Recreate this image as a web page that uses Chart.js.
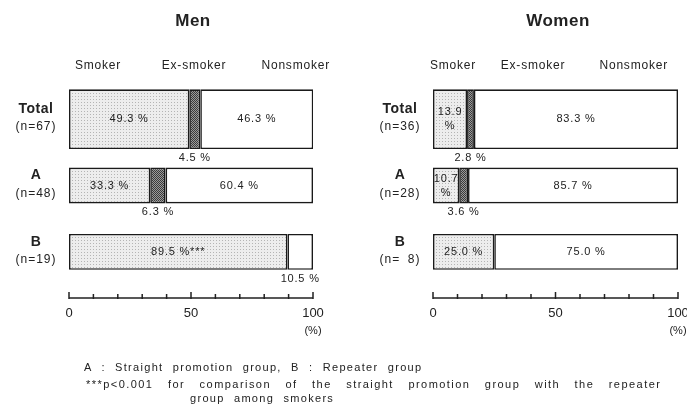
<!DOCTYPE html>
<html lang="en">
<head>
<meta charset="UTF-8">
<title>Smoking status</title>
<script src="https://cdn.jsdelivr.net/npm/chart.js"></script>
<style>
    body { margin: 0; background: #fff; font-family: 'Liberation Sans', Arial, sans-serif; color: #222; }
    .page { position: relative; width: 687px; height: 409px; overflow: hidden; }
    .panel { position: absolute; top: 0; }
    .title { position: absolute; font-size: 17px; font-weight: bold; transform: translateX(-50%); letter-spacing: 0.5px; }
    .head { position: absolute; font-size: 12px; top: 58px; white-space: nowrap; letter-spacing: 0.8px; }
    .note { position: absolute; font-size: 11px; white-space: nowrap; letter-spacing: 1.3px; word-spacing: 5px; }
    .note.wide { letter-spacing: 1.45px; word-spacing: 10px; }
</style>
</head>
<body>
<div class="page">
    <div class="panel" style="left:0"><canvas id="menChart" width="340" height="409"></canvas></div>
    <div class="panel" style="left:340px"><canvas id="womenChart" width="347" height="409"></canvas></div>

    <div class="title" style="left:193px; top:11px">Men</div>
    <div class="title" style="left:558px; top:11px">Women</div>

    <div class="head" style="left:75px">Smoker</div>
    <div class="head" style="left:194px; transform:translateX(-50%)">Ex-smoker</div>
    <div class="head" style="right:357px">Nonsmoker</div>
    <div class="head" style="left:430px">Smoker</div>
    <div class="head" style="left:533px; transform:translateX(-50%)">Ex-smoker</div>
    <div class="head" style="right:19px">Nonsmoker</div>

    <div class="note" style="left:84px; top:361px">A : Straight promotion group, B : Repeater group</div>
    <div class="note wide" style="left:86px; top:378px">***p&lt;0.001 for comparison of the straight promotion group with the repeater</div>
    <div class="note" style="left:190px; top:392px">group among smokers</div>
</div>

<script>
    // datos
    const categories = ['Total', 'A', 'B'];
    const statusLabels = ['Smoker', 'Ex-smoker', 'Nonsmoker'];
    const xTicks = [0, 50, 100];

    const menN = [67, 48, 19];
    const menSmoker = [49.3, 33.3, 89.5];
    const menEx = [4.5, 6.3, 0];
    const menNon = [46.3, 60.4, 10.5];
    const menMarks = ['', '', '***'];

    const womenN = [36, 28, 8];
    const womenSmoker = [13.9, 10.7, 25.0];
    const womenEx = [2.8, 3.6, 0];
    const womenNon = [83.3, 85.7, 75.0];
    const womenMarks = ['', '', ''];

    function makePattern(bg, dot, step, checker) {
        const c = document.createElement('canvas');
        c.width = step; c.height = step;
        const x = c.getContext('2d');
        x.fillStyle = bg;
        x.fillRect(0, 0, step, step);
        x.fillStyle = dot;
        x.fillRect(0, 0, 1, 1);
        if (checker) x.fillRect(1, 1, 1, 1);
        return x.createPattern(c, 'repeat');
    }

    const fills = [
        makePattern('#ededed', '#b4b4b4', 3, false),
        makePattern('#9a9a9a', '#3a3a3a', 2, true),
        '#ffffff'
    ];

    function buildDatasets(series) {
        const out = [];
        // fila Total mas gruesa que A y B
        [[0], [1, 2]].forEach((rows, g) => {
            series.forEach((vals, s) => {
                out.push({
                    label: statusLabels[s],
                    data: vals.map((v, i) => rows.includes(i) ? v : null),
                    backgroundColor: fills[s],
                    borderColor: '#1a1a1a',
                    borderWidth: 1.6,
                    borderSkipped: false,
                    barPercentage: g === 0 ? 0.9 : 0.54,
                    categoryPercentage: 1,
                    stack: 'all',
                    statusIndex: s
                });
            });
        });
        return out;
    }

    const labelPlugin = {
        id: 'labels',
        afterDatasetsDraw(chart, args, opts) {
            const ctx = chart.ctx;
            const area = chart.chartArea;
            const xs = chart.scales.x;
            const ys = chart.scales.y;
            ctx.save();
            ctx.fillStyle = '#222';
            ctx.textAlign = 'center';
            ctx.textBaseline = 'middle';

            // valores en las barras
            ctx.letterSpacing = '0.8px';
            chart.data.datasets.forEach((ds, di) => {
                const meta = chart.getDatasetMeta(di);
                meta.data.forEach((el, i) => {
                    const v = ds.data[i];
                    if (v === null || v === 0) return;
                    const p = el.getProps(['x', 'y', 'base', 'height'], true);
                    const cx = (p.x + p.base) / 2;
                    const txt = v.toFixed(1) + ' %';
                    ctx.font = '11px "Liberation Sans", Arial, sans-serif';
                    if (v >= 15) {
                        const mark = ds.statusIndex === 0 ? opts.marks[i] : '';
                        ctx.fillText(txt + mark, cx, p.y);
                    } else if (ds.statusIndex === 0) {
                        ctx.fillText(v.toFixed(1), cx, p.y - 7);
                        ctx.fillText('%', cx, p.y + 7);
                    } else {
                        ctx.fillText(txt, cx, p.y + p.height / 2 + 9);
                    }
                });
            });

            // etiquetas de las filas
            categories.forEach((c, i) => {
                const y = ys.getPixelForValue(i);
                const cx = area.left - 33;
                ctx.letterSpacing = '0.5px';
                ctx.font = 'bold 14px "Liberation Sans", Arial, sans-serif';
                ctx.fillText(c, cx, y - 10);
                ctx.letterSpacing = '1px';
                ctx.font = '12px "Liberation Sans", Arial, sans-serif';
                ctx.fillText('(n=' + String(opts.n[i]).padStart(2, '\u2007') + ')', cx, y + 8);
            });
            ctx.letterSpacing = '0px';

            // eje x propio, separado de las barras
            const ay = area.bottom + 13;
            ctx.strokeStyle = '#222';
            ctx.lineWidth = 1.5;
            ctx.beginPath();
            ctx.moveTo(xs.getPixelForValue(0), ay);
            ctx.lineTo(xs.getPixelForValue(100), ay);
            for (let t = 0; t <= 100; t += 10) {
                const px = xs.getPixelForValue(t);
                ctx.moveTo(px, ay + 1);
                ctx.lineTo(px, ay - (t % 50 === 0 ? 6 : 4));
            }
            ctx.stroke();
            ctx.font = '13px "Liberation Sans", Arial, sans-serif';
            xTicks.forEach(t => ctx.fillText(String(t), xs.getPixelForValue(t), ay + 15));
            ctx.font = '11px "Liberation Sans", Arial, sans-serif';
            ctx.fillText('(%)', xs.getPixelForValue(100), ay + 33);
            ctx.restore();
        }
    };

    function renderChart(id, series, n, marks, padding) {
        const ctx = document.getElementById(id).getContext('2d');
        return new Chart(ctx, {
            type: 'bar',
            data: { labels: categories, datasets: buildDatasets(series) },
            options: {
                indexAxis: 'y',
                responsive: false,
                animation: false,
                layout: { padding: padding },
                plugins: {
                    legend: { display: false },
                    tooltip: { enabled: false },
                    labels: { n: n, marks: marks }
                },
                scales: {
                    x: { stacked: true, min: 0, max: 100, display: false },
                    y: { stacked: true, display: false }
                }
            },
            plugins: [labelPlugin]
        });
    }

    renderChart('menChart', [menSmoker, menEx, menNon], menN, menMarks,
        { left: 69, right: 27, top: 86, bottom: 124 });
    renderChart('womenChart', [womenSmoker, womenEx, womenNon], womenN, womenMarks,
        { left: 93, right: 9, top: 86, bottom: 124 });
</script>
</body>
</html>
